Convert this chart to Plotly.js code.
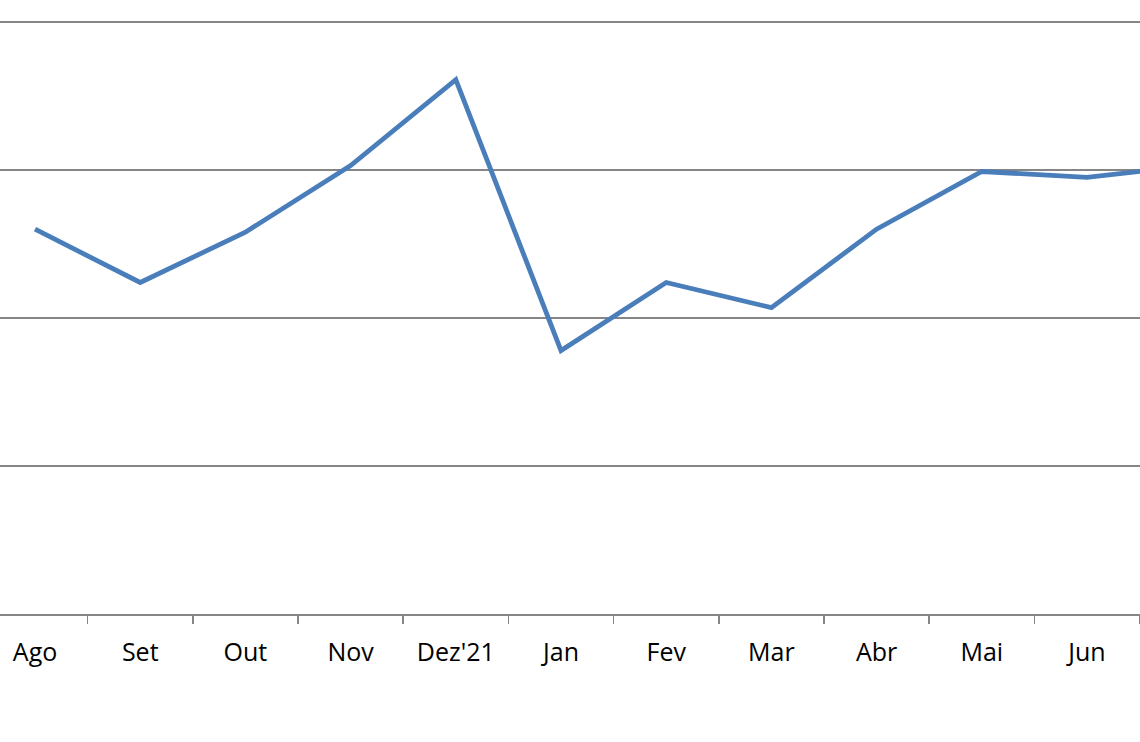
<!DOCTYPE html>
<html>
<head>
<meta charset="utf-8">
<script src="https://cdn.plot.ly/plotly-3.0.1.min.js"></script>
<style>html,body{margin:0;padding:0;background:#fff;}#chart{width:1140px;height:742px;}</style>
</head>
<body>
<div id="chart"></div>
<script>
const months = ["Ago", "Set", "Out", "Nov", "Dez'21", "Jan", "Fev", "Mar", "Abr", "Mai", "Jun", "Jul"];
const values = [2.60, 2.24, 2.58, 3.03, 3.61, 1.78, 2.24, 2.07, 2.60, 2.99, 2.95, 3.03];
const yTicks = [0, 1, 2, 3, 4];

const trace = {
  x: months,
  y: values,
  type: 'scatter',
  mode: 'lines',
  line: {color: '#4a7ebb', width: 4.8},
  hoverinfo: 'skip'
};

const layout = {
  width: 1140,
  height: 742,
  margin: {l: 0, r: 0, t: 20, b: 128},
  paper_bgcolor: '#ffffff',
  plot_bgcolor: '#ffffff',
  showlegend: false,
  xaxis: {
    type: 'category',
    range: [-0.333, 10.504],
    tickson: 'boundaries',
    ticks: 'outside',
    ticklen: 8,
    tickwidth: 1.5,
    tickcolor: '#868686',
    showline: true,
    linecolor: '#868686',
    linewidth: 2,
    showgrid: false,
    zeroline: false,
    tickfont: {family: 'Open Sans, sans-serif', size: 25, color: '#000000'},
    ticklabelstandoff: 15,
    fixedrange: true
  },
  yaxis: {
    range: [0, 4.0135],
    tickvals: yTicks,
    showticklabels: false,
    showgrid: true,
    gridcolor: '#868686',
    gridwidth: 1.5,
    zeroline: false,
    showline: false,
    ticks: '',
    fixedrange: true
  }
};

Plotly.newPlot('chart', [trace], layout, {displayModeBar: false, staticPlot: true});
</script>
</body>
</html>
